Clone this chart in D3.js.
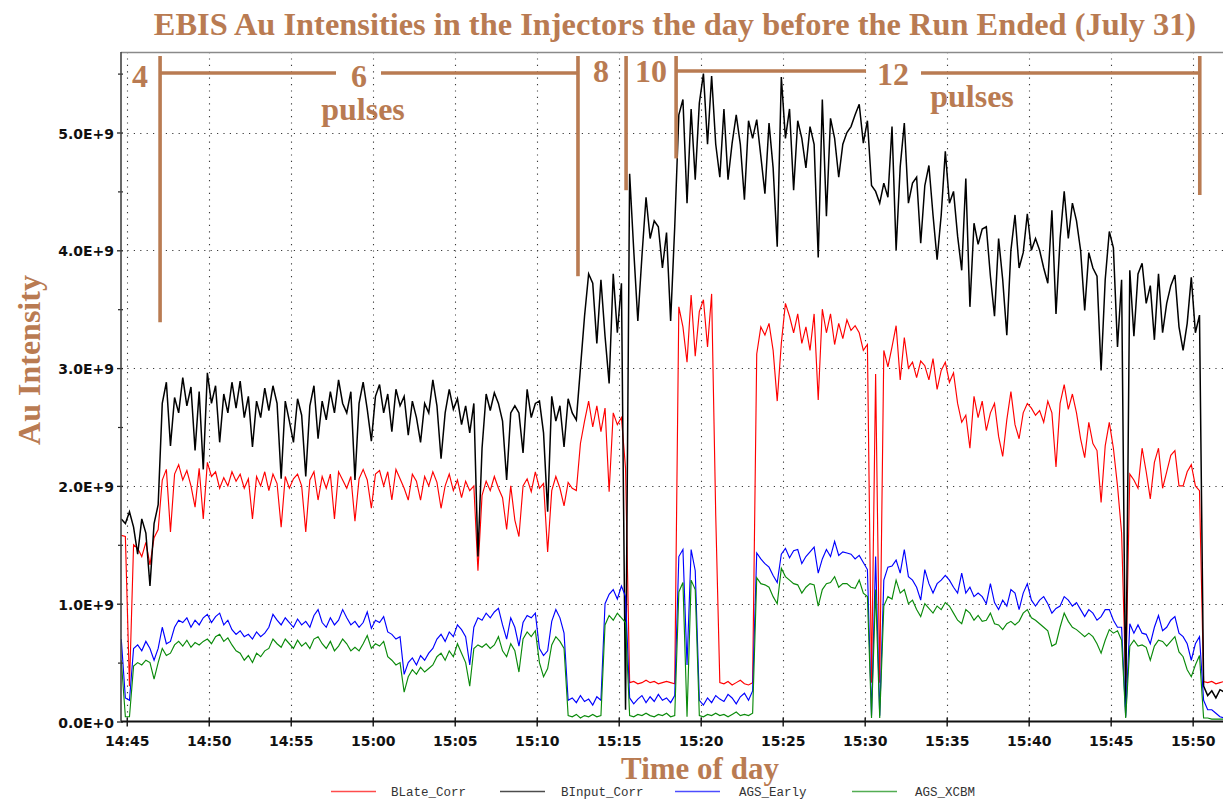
<!DOCTYPE html>
<html>
<head>
<meta charset="utf-8">
<script src="https://cdn.jsdelivr.net/npm/d3@7"></script>
<style>
  html, body { margin: 0; padding: 0; background: #ffffff; }
  svg { display: block; }
</style>
</head>
<body>
<svg id="chart" width="1223" height="802"></svg>
<script>
// ---- data -------------------------------------------------------------
// Logger clock: first reading at 14:44:40, then one reading every 15 s.
const firstSample = "14:44:40";
const sampleStepSec = 15;

// Intensities in units of 1e7 ions per reading.
const bLateCorr = [
  158,157,30,150,147,140,152,133,156,163,
  205,214,161,210,218,205,213,200,182,215,
  172,220,208,212,198,207,200,212,204,210,
  198,206,172,208,200,212,196,210,202,165,
  208,198,206,210,200,161,205,212,188,208,
  198,210,172,212,205,198,208,170,206,214,
  205,181,210,213,200,212,188,214,206,198,
  188,210,204,188,208,200,212,203,181,200,
  210,196,205,190,204,196,200,128,192,204,
  196,208,198,190,163,200,171,157,200,206,
  195,212,198,202,144,196,208,198,183,203,
  198,196,236,255,272,250,268,246,266,195,
  262,252,258,215,33,34,32,33,35,33,
  34,32,33,34,33,32,352,335,305,362,
  310,348,358,318,363,175,33,32,34,31,
  33,35,32,31,33,312,335,328,338,315,
  272,321,355,344,330,346,321,335,315,346,
  273,350,330,346,320,338,325,341,332,336,
  330,315,320,33,295,33,315,301,318,336,
  290,326,300,305,292,306,302,290,308,282,
  298,305,288,296,270,254,260,232,276,258,
  272,247,262,270,242,225,256,280,252,240,
  262,270,266,260,264,254,272,262,216,270,
  286,265,278,262,240,224,254,236,230,186,
  234,254,232,200,160,33,210,205,198,232,
  212,189,220,232,198,212,226,230,200,200,
  212,218,200,196,34,33,34,32,33,34
];

const bInputCorr = [
  172,168,178,165,142,172,160,115,168,184,
  270,288,234,275,262,292,268,284,230,280,
  214,296,270,285,237,278,262,288,266,289,
  258,276,233,272,258,283,264,285,270,206,
  272,255,237,274,260,208,268,285,240,272,
  256,280,262,290,270,262,280,205,270,288,
  265,238,276,286,262,278,246,282,268,276,
  243,272,258,237,270,262,290,268,223,262,
  282,265,274,252,268,245,270,140,232,278,
  264,279,270,255,205,262,268,262,228,282,
  258,270,272,245,178,276,255,268,233,274,
  262,256,300,344,380,372,321,375,327,287,
  380,330,372,10,465,400,340,395,445,410,
  425,420,385,415,340,420,515,528,440,520,
  460,525,550,490,548,490,462,520,460,491,
  515,490,443,510,495,511,480,448,508,470,
  403,547,495,520,451,510,495,470,505,490,
  394,528,429,512,495,462,490,500,505,515,
  524,491,510,455,450,440,457,445,505,400,
  471,508,440,457,462,406,455,472,430,392,
  430,484,440,450,412,383,461,352,423,405,
  418,420,378,344,410,375,328,400,430,385,
  398,431,400,410,400,385,372,434,346,410,
  450,410,440,425,400,349,398,385,378,298,
  375,416,402,318,375,12,383,327,380,389,
  355,370,324,380,330,355,370,379,335,315,
  338,377,330,345,30,22,26,20,27,25
];

const agsEarly = [
  70,20,18,62,65,60,68,62,52,62,
  80,66,68,80,86,84,88,80,86,82,
  88,91,84,89,92,82,86,78,74,77,
  72,74,70,76,72,75,80,91,86,82,
  88,84,80,87,82,85,80,90,95,84,
  80,88,82,86,95,88,82,85,80,84,
  93,79,86,84,89,76,74,70,72,40,
  50,54,48,56,52,58,62,70,74,68,
  76,72,82,78,72,48,80,88,86,92,
  88,93,96,82,70,88,80,64,84,90,
  88,92,62,56,60,85,95,88,75,18,
  20,16,22,17,19,14,21,18,100,108,
  112,104,115,106,20,15,19,22,16,21,
  17,23,18,20,16,22,140,146,48,146,
  128,18,14,20,16,22,19,17,23,20,
  15,21,24,18,26,143,138,134,131,124,
  118,142,147,139,145,146,134,140,144,148,
  126,138,146,140,153,141,144,143,142,138,
  141,135,129,5,140,5,120,131,132,137,
  126,146,123,120,114,103,129,117,109,117,
  120,124,120,114,109,126,109,114,106,109,
  106,100,117,101,95,103,98,112,109,95,
  109,117,103,98,103,106,100,92,96,98,
  106,103,98,101,95,89,95,92,86,89,
  95,95,86,80,80,4,83,75,82,75,
  74,66,80,90,77,80,86,89,75,72,
  66,52,66,72,18,10,10,7,4,3
];

const agsXcbm = [
  52,4,4,47,50,48,52,50,36,50,
  62,56,58,65,68,64,69,63,67,65,
  68,70,66,72,74,68,71,65,60,58,
  52,56,50,58,55,60,62,70,66,63,
  70,66,62,69,64,67,62,70,72,66,
  62,68,60,64,70,66,60,63,60,66,
  73,62,66,64,68,55,52,48,50,25,
  38,44,40,46,42,45,48,55,58,52,
  60,55,66,58,50,30,62,65,63,66,
  62,65,72,60,55,66,60,42,70,76,
  72,77,50,38,45,65,72,68,62,5,
  4,6,3,5,4,6,4,5,82,90,
  86,92,88,84,5,4,6,5,7,5,
  4,6,5,7,4,5,110,118,4,120,
  112,5,4,6,5,7,5,6,4,6,
  8,5,6,5,7,122,117,116,114,106,
  100,130,123,120,117,116,109,114,117,116,
  98,112,117,118,123,114,117,117,114,113,
  120,109,106,3,112,3,98,106,104,120,
  109,112,100,103,95,89,100,96,92,98,
  95,101,98,92,86,83,95,92,86,90,
  85,86,92,83,82,78,83,85,82,85,
  92,95,88,86,83,80,77,64,66,80,
  92,85,80,78,75,72,75,72,66,58,
  69,78,75,77,69,3,64,69,64,65,
  63,52,64,69,68,64,68,72,59,55,
  44,38,48,56,3,3,2,2,2,2
];

const seriesNames = ["BLate_Corr", "BInput_Corr", "AGS_Early", "AGS_XCBM"];
const seriesColors = ["#ff0000", "#000000", "#0000ff", "#0a8a0a"];

const xTickLabels = ["14:45","14:50","14:55","15:00","15:05","15:10","15:15",
                     "15:20","15:25","15:30","15:35","15:40","15:45","15:50"];
const yTickValues = [0, 1e9, 2e9, 3e9, 4e9, 5e9];
const yTickLabels = ["0.0E+0","1.0E+9","2.0E+9","3.0E+9","4.0E+9","5.0E+9"];
const yMinorTicks = [0.5e9, 1.5e9, 2.5e9, 3.5e9, 4.5e9, 5.5e9];

// EBIS pulse-count changes: time of change and how far down its marker reaches
const pulseChangeTimes = ["14:47:02","15:12:31","15:15:27","15:18:30","15:50:26"];
const pulseMarkerEnds  = [3.39e9, 3.78e9, 4.51e9, 4.78e9, 4.47e9];
const pulseCounts      = ["4", "6", "8", "10", "12"];

// ---- layout ------------------------------------------------------------
const plot = { left: 121, right: 1223, top: 52, bottom: 721.5 };
const brown = "#b97b52";
const serif = "'Liberation Serif', 'Times New Roman', serif";
const sans = "'DejaVu Sans', Verdana, sans-serif";
const mono = "'Liberation Mono', 'DejaVu Sans Mono', monospace";

const svg = d3.select("#chart");
const parseClock = d3.timeParse("%H:%M:%S");

const x = d3.scaleTime()
  .domain([parseClock("14:44:39"), parseClock("15:51:51")])
  .range([plot.left, plot.right]);
const y = d3.scaleLinear()
  .domain([0, 5e9])
  .range([plot.bottom, 132.5]);

const start = parseClock(firstSample);
const times = bLateCorr.map((_, i) => new Date(+start + i * sampleStepSec * 1000));
const xTicks = xTickLabels.map(s => parseClock(s + ":00"));

// ---- grid --------------------------------------------------------------
const grid = svg.append("g")
  .attr("stroke", "#3a3a3a")
  .attr("stroke-width", 1.1)
  .attr("stroke-dasharray", "1.2,5.2");
grid.selectAll("line.v").data(xTicks).join("line")
  .attr("class", "v")
  .attr("x1", d => Math.round(x(d)) + 0.5).attr("x2", d => Math.round(x(d)) + 0.5)
  .attr("y1", plot.top).attr("y2", plot.bottom);
grid.selectAll("line.h").data(yTickValues.filter(v => v > 0)).join("line")
  .attr("class", "h")
  .attr("x1", plot.left).attr("x2", plot.right)
  .attr("y1", d => Math.round(y(d)) + 0.5).attr("y2", d => Math.round(y(d)) + 0.5);

// ---- series ------------------------------------------------------------
svg.append("clipPath").attr("id", "plotClip")
  .append("rect")
  .attr("x", plot.left).attr("y", plot.top)
  .attr("width", plot.right - plot.left).attr("height", plot.bottom - plot.top);

const seriesData = [bLateCorr, bInputCorr, agsEarly, agsXcbm];
const line = d3.line()
  .x((d, i) => x(times[i]))
  .y(d => y(d * 1e7));

svg.append("g").attr("clip-path", "url(#plotClip)")
  .selectAll("path").data(seriesData).join("path")
  .attr("d", d => line(d))
  .attr("fill", "none")
  .attr("stroke", (d, i) => seriesColors[i])
  .attr("stroke-width", (d, i) => i === 1 ? 1.5 : 1.15)
  .attr("stroke-linejoin", "miter");

// ---- frame and axes ----------------------------------------------------
svg.append("line")
  .attr("x1", plot.left).attr("x2", plot.right)
  .attr("y1", plot.top + 0.5).attr("y2", plot.top + 0.5)
  .attr("stroke", "#8a8a8a").attr("stroke-width", 1.5);

const xAxis = svg.append("g")
  .attr("transform", `translate(0,${plot.bottom})`)
  .call(d3.axisBottom(x).tickValues(xTicks).tickFormat(d3.timeFormat("%H:%M"))
    .tickSize(5).tickPadding(10));
xAxis.select(".domain").remove();
xAxis.selectAll(".tick line").attr("y1", -4).attr("stroke", "#111").attr("stroke-width", 1.4);
xAxis.selectAll(".tick text")
  .attr("font-family", sans).attr("font-weight", "bold").attr("font-size", 14)
  .attr("fill", "#111");

const yAxis = svg.append("g")
  .attr("transform", `translate(${plot.left},0)`)
  .call(d3.axisLeft(y).tickValues(yTickValues)
    .tickFormat((d, i) => yTickLabels[i]).tickSize(4).tickPadding(3));
yAxis.select(".domain").remove();
yAxis.selectAll(".tick line").attr("x1", 2).attr("stroke", "#222").attr("stroke-width", 1.3);
yAxis.selectAll(".tick text")
  .attr("font-family", sans).attr("font-weight", "bold").attr("font-size", 14)
  .attr("fill", "#111").attr("dy", "0.4em");

svg.append("g").attr("transform", `translate(${plot.left},0)`)
  .call(d3.axisLeft(y).tickValues(yMinorTicks).tickFormat("").tickSize(3))
  .call(g => g.select(".domain").remove())
  .call(g => g.selectAll(".tick line").attr("x1", 2).attr("stroke", "#222").attr("stroke-width", 1.2));

// axis lines
svg.append("line")
  .attr("x1", plot.left).attr("x2", plot.left)
  .attr("y1", plot.top).attr("y2", plot.bottom)
  .attr("stroke", "#444").attr("stroke-width", 1.6);
svg.append("line")
  .attr("x1", plot.left).attr("x2", plot.right)
  .attr("y1", plot.bottom).attr("y2", plot.bottom)
  .attr("stroke", "#111").attr("stroke-width", 2);

// ---- pulse-count markers ----------------------------------------------
const pulseX = pulseChangeTimes.map(s => x(parseClock(s)));
const ann = svg.append("g").attr("stroke", brown).attr("stroke-width", 3.6).attr("stroke-linecap", "butt");
ann.selectAll("line.m").data(pulseX).join("line")
  .attr("class", "m")
  .attr("x1", d => d).attr("x2", d => d)
  .attr("y1", plot.top + 4)
  .attr("y2", (d, i) => y(pulseMarkerEnds[i]));

// brackets across the 6-pulse and 12-pulse periods, broken around the count
const brackets = [
  [pulseX[0], 336, 73], [381, pulseX[1], 73],
  [pulseX[3], 866, 71], [921, pulseX[4], 73]
];
ann.selectAll("line.b").data(brackets).join("line")
  .attr("class", "b")
  .attr("x1", d => d[0]).attr("x2", d => d[1])
  .attr("y1", d => d[2]).attr("y2", d => d[2]);

const countX = [140, 359, 601, 651, 893];
const countY = [87, 87, 82, 82, 85];
svg.append("g").selectAll("text").data(pulseCounts).join("text")
  .attr("x", (d, i) => countX[i]).attr("y", (d, i) => countY[i])
  .attr("text-anchor", "middle")
  .attr("font-family", serif).attr("font-weight", "bold").attr("font-size", 32)
  .attr("fill", brown)
  .text(d => d);

svg.append("g").selectAll("text").data([[363, 120], [972, 107]]).join("text")
  .attr("x", d => d[0]).attr("y", d => d[1])
  .attr("text-anchor", "middle")
  .attr("font-family", serif).attr("font-weight", "bold").attr("font-size", 32)
  .attr("fill", brown)
  .text("pulses");

// ---- titles ------------------------------------------------------------
svg.append("text")
  .attr("x", 675).attr("y", 35)
  .attr("text-anchor", "middle")
  .attr("font-family", serif).attr("font-weight", "bold").attr("font-size", 32.4)
  .attr("fill", brown)
  .text("EBIS Au Intensities in the Injectors the day before the Run Ended (July 31)");

svg.append("text")
  .attr("transform", "translate(40,360) rotate(-90)")
  .attr("text-anchor", "middle")
  .attr("font-family", serif).attr("font-weight", "bold").attr("font-size", 32)
  .attr("fill", brown)
  .text("Au Intensity");

svg.append("text")
  .attr("x", 700).attr("y", 779)
  .attr("text-anchor", "middle")
  .attr("font-family", serif).attr("font-weight", "bold").attr("font-size", 31)
  .attr("fill", brown)
  .text("Time of day");

// ---- legend ------------------------------------------------------------
const legendLineX = [331, 500, 675, 852];
const legendTextX = [391, 561, 739, 915];
const legend = svg.append("g");
legend.selectAll("line").data(seriesNames).join("line")
  .attr("x1", (d, i) => legendLineX[i]).attr("x2", (d, i) => legendLineX[i] + 45)
  .attr("y1", 791.5).attr("y2", 791.5)
  .attr("stroke", (d, i) => seriesColors[i]).attr("stroke-opacity", 0.7)
  .attr("stroke-width", 1.6);
legend.selectAll("text").data(seriesNames).join("text")
  .attr("x", (d, i) => legendTextX[i]).attr("y", 796)
  .attr("font-family", mono).attr("font-size", 12.5)
  .attr("fill", "#333")
  .text(d => d);
</script>
</body>
</html>
